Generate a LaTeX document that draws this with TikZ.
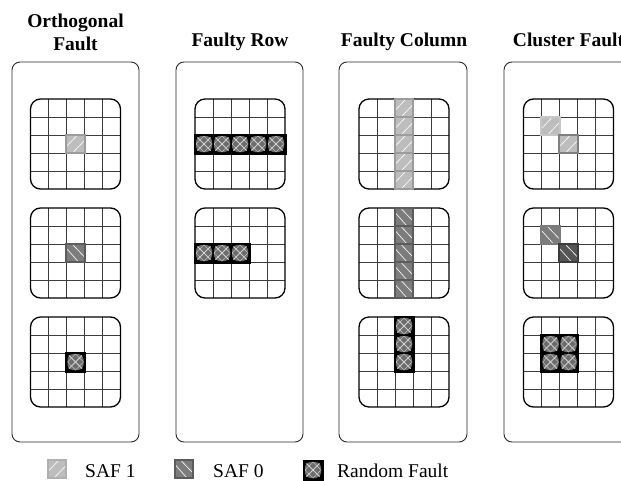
\documentclass[tikz,border=0pt]{standalone}
\usepackage{fontspec}
\setmainfont{Liberation Serif}
\definecolor{panelline}{HTML}{2A2A2A}
\definecolor{gridline}{HTML}{3C3C3C}
\definecolor{safonefill}{HTML}{BDBDBD}
\definecolor{safoneedge}{HTML}{9C9C9C}
\definecolor{safonedark}{HTML}{808080}
\definecolor{safzerofill}{HTML}{7C7C7C}
\definecolor{safzeroedge}{HTML}{5C5C5C}
\definecolor{safzerodark}{HTML}{555555}
\definecolor{randgray}{HTML}{6C6C6C}
\definecolor{randline}{HTML}{D2D2D2}
\tikzset{
  panelbox/.style={draw=panelline, line width=0.9pt, rounded corners=8pt},
  gridbox/.style={draw=black, line width=1.3pt, rounded corners=10pt},
  gridrule/.style={draw=gridline, line width=0.9pt},
  hatchline/.style={draw=white, line width=0.6pt},
  titletext/.style={font=\fontsize{19.5}{23}\selectfont\bfseries, inner sep=0pt, align=center},
  legendtext/.style={font=\fontsize{19.5}{22}\selectfont, inner sep=0pt, anchor=base west},
}
% memory array: 5x5 cells of 18 units, top-left corner (#1,#2)
\newcommand\memgrid[2]{%
  \begin{scope}
    \clip[rounded corners=10pt] (#1,#2) rectangle ++(90,90);
    \foreach \k in {1,...,4} {
      \draw[gridrule] (#1+18*\k,#2) -- ++(0,90);
      \draw[gridrule] (#1,#2+18*\k) -- ++(90,0);
    }
  \end{scope}
  \draw[gridbox] (#1,#2) rectangle ++(90,90);
}
% stuck-at-1 cell: x, y, fill, edge
\newcommand\cellone[4]{%
  \fill[#3] (#1-1,#2-1) rectangle ++(20,20);
  \draw[hatchline] (#1+0.5,#2+11) -- (#1+10.5,#2+0.5) (#1+6,#2+18) -- (#1+18,#2+5.5);
  \draw[#4, line width=2pt] (#1-0.2,#2-0.2) rectangle ++(18.4,18.4);
}
% stuck-at-0 cell: x, y, fill, edge
\newcommand\cellzero[4]{%
  \fill[#3] (#1-1,#2-1) rectangle ++(20,20);
  \draw[hatchline] (#1+0.5,#2+5) -- (#1+12,#2+18) (#1+6,#2+0.5) -- (#1+18,#2+13);
  \draw[#4, line width=2pt] (#1-0.2,#2-0.2) rectangle ++(18.4,18.4);
}
% block of random-fault cells: x, y, columns, rows
\newcommand\randblock[4]{%
  \fill[black] (#1-1.5,#2-1.5) rectangle ++(18*#3+3,18*#4+3);
  \foreach \i in {1,...,#3} {
    \foreach \j in {1,...,#4} {
      \pgfmathsetmacro\cx{#1+18*(\i-1)}
      \pgfmathsetmacro\cy{#2+18*(\j-1)}
      \fill[randgray, rounded corners=5pt] (\cx+1,\cy+1) rectangle ++(16,16);
      \draw[randline, line width=0.8pt] (\cx+2.5,\cy+2.5) -- (\cx+15.5,\cy+15.5) (\cx+15.5,\cy+2.5) -- (\cx+2.5,\cy+15.5);
      \draw[randline, line width=0.6pt, dash pattern=on 1.2pt off 0.6pt]
        (\cx+9,\cy+1) -- (\cx+17,\cy+9) -- (\cx+9,\cy+17) -- (\cx+1,\cy+9) -- cycle;
    }
  }
}
\begin{document}
\begin{tikzpicture}[x=1pt, y=-1pt]
\useasboundingbox (0,0) rectangle (621,480);
\fill[white] (0,0) rectangle (621,480);

% ---- panel frames and headings
\draw[panelbox] (12,62) rectangle (139,442);
\draw[panelbox] (176,62) rectangle (303,442);
\draw[panelbox] (339,62) rectangle (467,442);
\draw[panelbox] (504,62) rectangle (632,442);
\node[titletext, anchor=north] (t1) at (75.5,14) {Orthogonal\\Fault};
\node[titletext, anchor=base] (t2) at (240,46) {Faulty Row};
\node[titletext, anchor=base] (t3) at (404,46) {Faulty Column};
\node[titletext, anchor=base] (t4) at (568.5,46) {Cluster Fault};

% ---- orthogonal fault
\memgrid{30.5}{99}
\cellone{66.5}{135}{safonefill}{safoneedge}
\memgrid{30.5}{208}
\cellzero{66.5}{244}{safzerofill}{safzeroedge}
\memgrid{30.5}{317}
\randblock{66.5}{353}{1}{1}

% ---- faulty row
\memgrid{195}{99}
\randblock{195}{135}{5}{1}
\memgrid{195}{208}
\randblock{195}{244}{3}{1}

% ---- faulty column
\memgrid{359}{99}
\foreach \r in {0,...,4} {\cellone{395}{99+18*\r}{safonefill}{safoneedge}}
\memgrid{359}{208}
\foreach \r in {0,...,4} {\cellzero{395}{208+18*\r}{safzerofill}{safzeroedge}}
\memgrid{359}{317}
\randblock{395}{317}{1}{3}

% ---- cluster fault
\memgrid{523.5}{99}
\cellone{541.5}{117}{safonefill}{safonefill!85!white}
\cellone{559.5}{135}{safonefill}{safonedark}
\memgrid{523.5}{208}
\cellzero{541.5}{226}{safzerofill}{safzerofill}
\cellzero{559.5}{244}{safzerodark}{safzerodark!70!black}
\memgrid{523.5}{317}
\randblock{541.5}{335}{2}{2}

% ---- legend
\cellone{48}{460}{safonefill}{safoneedge!80!white}
\node[legendtext] (l1) at (85,477) {SAF 1};
\cellzero{175}{460}{safzerofill}{safzeroedge}
\node[legendtext] (l2) at (213,477) {SAF 0};
\randblock{304}{461}{1}{1}
\node[legendtext] (l3) at (337,477) {Random Fault};
\end{tikzpicture}
\end{document}
